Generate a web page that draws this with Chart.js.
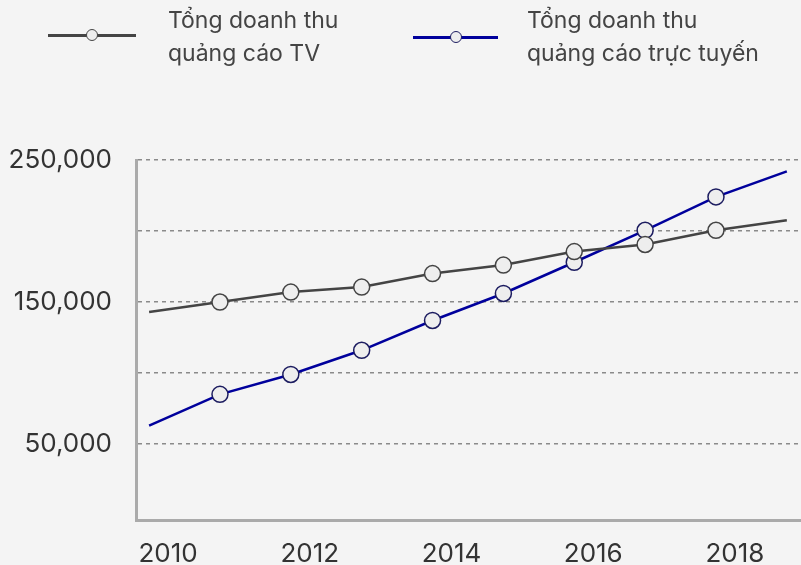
<!DOCTYPE html>
<html>
<head>
<meta charset="utf-8">
<script src="https://cdn.jsdelivr.net/npm/chart.js@4"></script>
<style>
  body { margin: 0; background: #f4f4f4; }
  #wrap { position: relative; width: 801px; height: 565px; font-family: Inter, sans-serif; }
  .lg-line { position: absolute; height: 3px; }
  .lg-dot { position: absolute; width: 10px; height: 10px; border-radius: 50%; background: #eeeeee; border: 1.5px solid; }
  .lg-text { position: absolute; top: 4px; font-size: 23px; line-height: 33px; color: #444; }
</style>
</head>
<body>
<div id="wrap">
  <canvas id="chart" width="801" height="565"></canvas>
  <div class="lg-line" style="left:48px;top:34px;width:88px;background:#444;"></div>
  <div class="lg-dot" style="left:86px;top:29px;border-color:#444;"></div>
  <div class="lg-text" style="left:168px;">Tổng doanh thu<br>quảng cáo TV</div>
  <div class="lg-line" style="left:413px;top:36px;width:85px;background:#00009c;"></div>
  <div class="lg-dot" style="left:450px;top:31px;border-color:#1c1c60;"></div>
  <div class="lg-text" style="left:527px;">Tổng doanh thu<br>quảng cáo trực tuyến</div>
</div>
<script>
/* ── Data ── */
const years = [2010, 2011, 2012, 2013, 2014, 2015, 2016, 2017, 2018, 2019];
const tvRevenue = [143000, 150000, 157000, 160500, 170000, 176000, 185500, 190500, 200500, 207500];
const onlineRevenue = [63000, 85000, 99000, 116000, 137000, 156000, 178000, 200500, 224000, 242000];
const markerRadius = [0, 8, 8, 8, 8, 8, 8, 8, 8, 0];
const xTicks = [2010, 2012, 2014, 2016, 2018];
const yGridTicks = [50000, 100000, 150000, 200000, 250000];
const yLabelTicks = [50000, 150000, 250000];

const toPoints = vals => vals.map((v, i) => ({ x: years[i], y: v }));

const ctx = document.getElementById('chart').getContext('2d');
new Chart(ctx, {
  type: 'line',
  data: {
    datasets: [
      {
        label: 'Tổng doanh thu quảng cáo TV',
        data: toPoints(tvRevenue),
        borderColor: '#444444',
        borderWidth: 2.5,
        tension: 0,
        pointRadius: markerRadius,
        pointBackgroundColor: '#eeeeee',
        pointBorderColor: '#444444',
        pointBorderWidth: 1.5
      },
      {
        label: 'Tổng doanh thu quảng cáo trực tuyến',
        data: toPoints(onlineRevenue),
        borderColor: '#00009c',
        borderWidth: 2.5,
        tension: 0,
        pointRadius: markerRadius,
        pointBackgroundColor: '#eeeeee',
        pointBorderColor: '#1c1c60',
        pointBorderWidth: 1.5
      }
    ]
  },
  options: {
    responsive: false,
    animation: false,
    layout: { padding: { top: 160, left: 0, right: 0, bottom: 0 } },
    plugins: {
      legend: { display: false },
      tooltip: { enabled: false }
    },
    scales: {
      x: {
        type: 'linear',
        min: 2009.815,
        max: 2019.2,
        afterBuildTicks: s => { s.ticks = xTicks.map(v => ({ value: v })); },
        afterFit: s => { s.height = 45; },
        grid: { display: false, drawTicks: false },
        border: { display: true, color: '#aaaaaa', width: 3 },
        ticks: {
          color: '#333',
          font: { family: 'Inter', size: 26 },
          padding: 19,
          labelOffset: 19,
          maxRotation: 0,
          callback: v => String(v)
        }
      },
      y: {
        min: -3500,
        max: 250000,
        afterBuildTicks: s => { s.ticks = yGridTicks.map(v => ({ value: v })); },
        afterFit: s => { s.width = 136; },
        grid: { color: '#8a8a8a', lineWidth: 1.5, drawTicks: false },
        border: { display: true, color: '#aaaaaa', width: 3, dash: [4, 4] },
        ticks: {
          color: '#333',
          font: { family: 'Inter', size: 26 },
          padding: 24,
          callback: v => yLabelTicks.includes(v) ? v.toLocaleString('en-US') : ''
        }
      }
    }
  }
});
</script>
</body>
</html>
